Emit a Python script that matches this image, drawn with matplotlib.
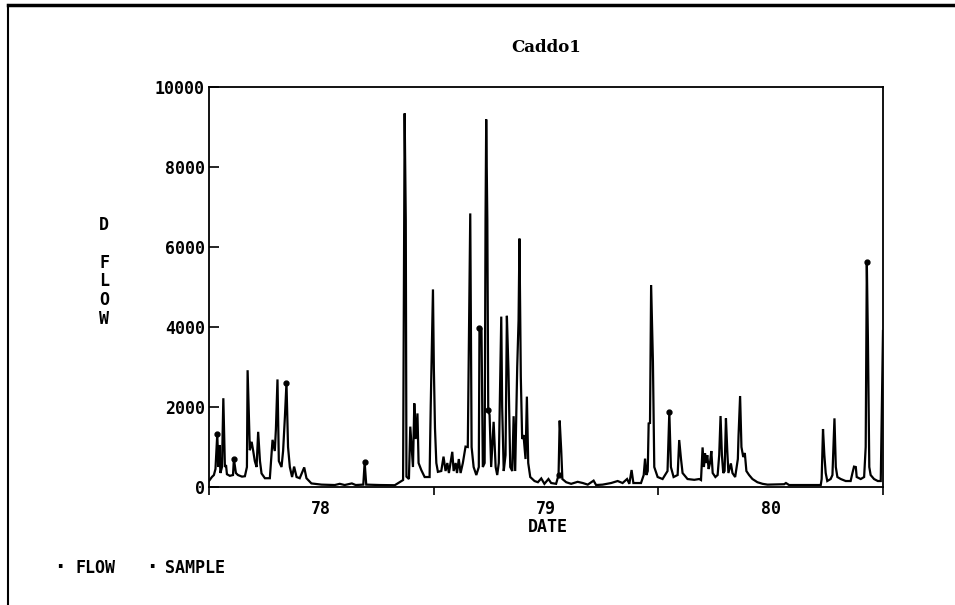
import matplotlib.pyplot as plt
from matplotlib.lines import Line2D

# Caddo1 - daily flow, decimal years (78 = 1978)
flow_t = [
    78.000, 78.013, 78.022, 78.029, 78.037, 78.042, 78.047, 78.051, 78.058, 78.064,
    78.071, 78.076, 78.080, 78.093, 78.107, 78.111, 78.120, 78.129, 78.147, 78.160,
    78.169, 78.172, 78.182, 78.190, 78.197, 78.204, 78.212, 78.219, 78.227, 78.234,
    78.249, 78.271, 78.283, 78.293, 78.298, 78.305, 78.311, 78.323, 78.330, 78.338,
    78.345, 78.352, 78.360, 78.370, 78.379, 78.390, 78.404, 78.424, 78.434, 78.456,
    78.501, 78.560, 78.582, 78.604, 78.636, 78.653, 78.687, 78.693, 78.700, 78.760,
    78.827, 78.864, 78.871, 78.876, 78.879, 78.890, 78.896, 78.902, 78.908, 78.914,
    78.920, 78.928, 78.933, 78.945, 78.960, 78.982, 78.987, 78.997, 79.001, 79.006,
    79.012, 79.019, 79.034, 79.044, 79.053, 79.061, 79.068, 79.083, 79.089, 79.098,
    79.104, 79.112, 79.120, 79.130, 79.142, 79.152, 79.163, 79.169, 79.178, 79.190,
    79.201, 79.204, 79.213, 79.219, 79.227, 79.231, 79.234, 79.239, 79.243, 79.249,
    79.256, 79.267, 79.276, 79.283, 79.290, 79.301, 79.305, 79.312, 79.320, 79.326,
    79.333, 79.341, 79.350, 79.356, 79.363, 79.372, 79.378, 79.382, 79.388, 79.394,
    79.400, 79.409, 79.415, 79.421, 79.430, 79.449, 79.464, 79.479, 79.493, 79.511,
    79.523, 79.545, 79.556, 79.561, 79.568, 79.573, 79.590, 79.612, 79.641, 79.664,
    79.686, 79.712, 79.723, 79.752, 79.790, 79.819, 79.841, 79.861, 79.871, 79.881,
    79.889, 79.908, 79.923, 79.935, 79.941, 79.947, 79.953, 79.957, 79.963, 79.968,
    79.976, 79.982, 79.997, 80.019, 80.041, 80.049, 80.056, 80.068, 80.086, 80.093,
    80.101, 80.108, 80.130, 80.160, 80.182, 80.190, 80.197, 80.203, 80.208, 80.212,
    80.218, 80.224, 80.230, 80.236, 80.242, 80.254, 80.264, 80.271, 80.277, 80.283,
    80.289, 80.295, 80.301, 80.307, 80.312, 80.323, 80.330, 80.342, 80.354, 80.357,
    80.364, 80.370, 80.378, 80.385, 80.392, 80.404, 80.419, 80.441, 80.464, 80.486,
    80.560, 80.568, 80.582, 80.723, 80.727, 80.733, 80.739, 80.745, 80.752, 80.767,
    80.775, 80.779, 80.784, 80.790, 80.797, 80.812, 80.834, 80.856, 80.864, 80.871,
    80.879, 80.883, 80.901, 80.916, 80.923, 80.928, 80.933, 80.939, 80.945, 80.960,
    80.977, 80.990, 81.000,
]
flow_v = [
    150, 250, 300, 450, 1320, 500, 1050, 350, 500, 2220,
    500, 550, 320, 280, 300, 700, 350, 300, 260, 270,
    500, 2920, 920, 1130, 900, 650, 500, 1380, 650, 340,
    220, 220, 1180, 900, 1450, 2690, 650, 500, 900, 1750,
    2610, 1000, 500, 250, 510, 250, 220, 490, 220, 90,
    60, 50, 80, 50, 90, 50, 60, 620, 60, 50,
    45, 175, 9340, 6670, 260, 200, 1510, 1000, 500, 2090,
    1200, 1840, 600, 425, 250, 250, 2010, 4940, 2970, 1470,
    600, 380, 400, 760, 400, 600, 350, 880, 400, 600,
    350, 700, 350, 600, 1010, 1000, 6840, 1000, 500, 300,
    500, 3970, 3950, 500, 600, 6700, 9190, 6675, 1925, 1800,
    500, 1630, 500, 300, 600, 4260, 2000, 400, 800, 4280,
    2930, 500, 400, 1770, 400, 3000, 4170, 6210, 2750, 1200,
    1300, 700, 2260, 600, 250, 150, 120, 215, 80, 200,
    100, 80, 300, 1660, 900, 200, 120, 80, 130, 100,
    60, 160, 50, 60, 100, 150, 100, 200, 80, 425,
    100, 100, 100, 300, 710, 300, 400, 1590, 1600, 5050,
    3140, 500, 250, 200, 400, 1880, 500, 250, 300, 1175,
    700, 350, 200, 180, 200, 175, 990, 500, 840, 600,
    796, 450, 600, 900, 350, 250, 300, 800, 1775, 800,
    350, 400, 1717, 900, 350, 590, 350, 250, 700, 1275,
    2275, 1000, 750, 850, 400, 300, 200, 120, 80, 60,
    70, 100, 50, 50, 200, 1450, 800, 350, 150, 200,
    300, 900, 1717, 500, 250, 200, 150, 150, 350, 510,
    500, 250, 200, 250, 1000, 5630, 3650, 500, 300, 200,
    150, 150, 3900,
]

# water-quality samples
sample_t = [78.037, 78.111, 78.345, 78.693, 79.204, 79.243, 79.556, 80.049, 80.928]
sample_v = [1320, 700, 2610, 620, 3970, 1925, 300, 1880, 5630]

year_ticks = [78, 79, 80, 81]
year_labels = ['78', '79', '80']
y_ticks = [0, 2000, 4000, 6000, 8000, 10000]

font = 'DejaVu Sans Mono'
plt.rcParams['font.family'] = font
plt.rcParams['font.weight'] = 'bold'

fig = plt.figure(figsize=(9.55, 6.05), dpi=100)
ax = fig.add_axes([0.2188, 0.1950, 0.7058, 0.6612])

ax.plot(flow_t, flow_v, color='black', lw=1.6, solid_joinstyle='miter')
ax.plot(sample_t, sample_v, ls='none', marker='o', ms=3.5, color='black')

ax.set_xlim(78, 81)
ax.set_ylim(0, 10000)

# year boundaries get ticks, labels sit in the middle of each year
ax.set_xticks(year_ticks)
ax.set_xticklabels([])
ax.set_xticks([y + 0.5 for y in year_ticks[:-1]], minor=True)
ax.set_xticklabels(year_labels, minor=True)
ax.tick_params(axis='x', which='major', direction='out', length=6, width=1.2)
ax.tick_params(axis='x', which='minor', length=0, pad=9, labelsize=12)

ax.set_yticks(y_ticks)
ax.set_yticklabels([str(v) for v in y_ticks])
ax.tick_params(axis='y', direction='in', length=7, width=1.2, pad=3, labelsize=12)

for s in ax.spines.values():
    s.set_linewidth(1.3)

fig.text(546 / 955, 1 - 48 / 605, 'Caddo1', ha='center', va='center',
         fontsize=12, fontweight='bold', family='DejaVu Serif')
fig.text(548 / 955, 1 - 527 / 605, 'DATE', ha='center', va='center', fontsize=12)
fig.text(104 / 955, 1 - 272 / 605, 'D\n\nF\nL\nO\nW', ha='center', va='center',
         fontsize=12, linespacing=1.05)

# legend line under the chart
fig.text(53 / 955, 1 - 568 / 605, '\u00b7', ha='left', va='center', fontsize=16)
fig.text(75 / 955, 1 - 568 / 605, 'FLOW', ha='left', va='center', fontsize=12)
fig.text(145 / 955, 1 - 568 / 605, '\u00b7', ha='left', va='center', fontsize=16)
fig.text(165 / 955, 1 - 568 / 605, 'SAMPLE', ha='left', va='center', fontsize=12)

# partial outer frame (top and left only)
fig.add_artist(Line2D([8 / 955, 8 / 955], [0, 1 - 5 / 605], color='black', lw=1.5))
fig.add_artist(Line2D([8 / 955, 1], [1 - 5 / 605, 1 - 5 / 605], color='black', lw=2.5))

plt.savefig('out.png', dpi=100)
plt.close()
